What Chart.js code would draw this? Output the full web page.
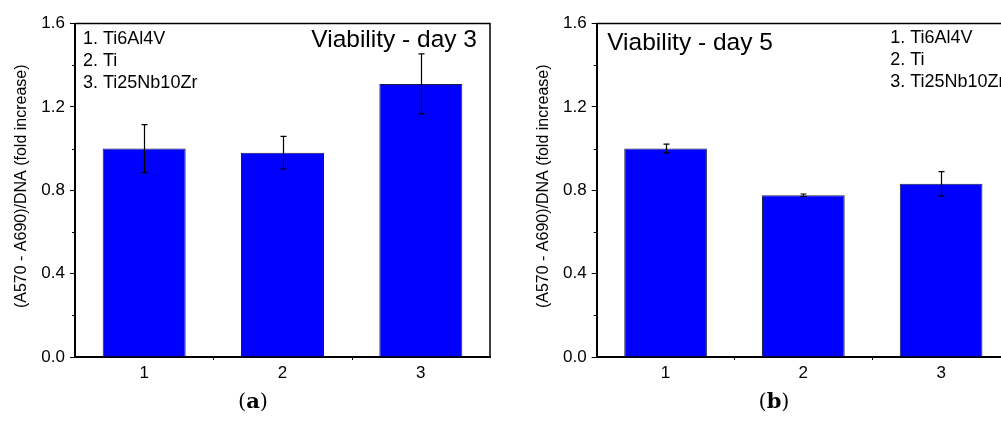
<!DOCTYPE html>
<html>
<head>
<meta charset="UTF-8">
<title>Viability</title>
<script src="https://cdn.jsdelivr.net/npm/chart.js@4"></script>
<style>
	html, body { margin: 0; padding: 0; background: #fff; overflow: hidden; }
	body { width: 1001px; height: 421px; position: relative; }
	canvas { position: absolute; top: 0; }
	#chartA { left: 0; }
	#chartB { left: 500px; }
	.caption { position: absolute; top: 388px; width: 60px; text-align: center;
		font-family: "DejaVu Serif", "Liberation Serif", serif; font-size: 21px; color: #000; }
	.caption b { font-weight: bold; }
</style>
</head>
<body>
<canvas id="chartA" width="500" height="421"></canvas>
<canvas id="chartB" width="520" height="421"></canvas>
<div class="caption" style="left:223px">(<b>a</b>)</div>
<div class="caption" style="left:744px">(<b>b</b>)</div>
<script>
	// samples on the x axis
	var categories = ["1", "2", "3"];
	var materials = ["1. Ti6Al4V", "2. Ti", "3. Ti25Nb10Zr"];
	var yTicks = [0, 0.4, 0.8, 1.2, 1.6];
	var yMinorTicks = [0.2, 0.6, 1.0, 1.4];

	// fold increase, mean and error
	var day3Mean = [1.00, 0.98, 1.31];
	var day3Err = [0.115, 0.078, 0.144];
	var day5Mean = [1.00, 0.776, 0.831];
	var day5Err = [0.021, 0.006, 0.058];

	var FONT = "'Liberation Sans', Arial, sans-serif";
	var yTitle = "(A570 - A690)/DNA (fold increase)";

	// frame, minor ticks, error bars and in-plot texts
	var decorations = {
		id: 'decorations',
		afterDatasetsDraw: function(chart) {
			var o = chart.options.plugins.decorations;
			var ctx = chart.ctx, a = chart.chartArea;
			var x = chart.scales.x, y = chart.scales.y;
			ctx.save();
			ctx.strokeStyle = '#000';

			// error bars
			ctx.lineWidth = 1.2;
			for (var i = 0; i < o.mean.length; i++) {
				var px = Math.round(x.getPixelForValue(i)) + 0.5;
				var top = y.getPixelForValue(o.mean[i] + o.err[i]);
				var bot = y.getPixelForValue(o.mean[i] - o.err[i]);
				ctx.beginPath();
				ctx.moveTo(px, top); ctx.lineTo(px, bot);
				ctx.moveTo(px - 3, top); ctx.lineTo(px + 3, top);
				ctx.moveTo(px - 3, bot); ctx.lineTo(px + 3, bot);
				ctx.stroke();
			}

			// top and right of the box
			ctx.lineWidth = 1.5;
			ctx.beginPath();
			ctx.moveTo(a.left, a.top); ctx.lineTo(a.right, a.top); ctx.lineTo(a.right, a.bottom);
			ctx.stroke();

			// minor ticks
			ctx.lineWidth = 1;
			ctx.beginPath();
			yMinorTicks.forEach(function(v) {
				var py = Math.round(y.getPixelForValue(v)) + 0.5;
				ctx.moveTo(a.left - 3, py); ctx.lineTo(a.left, py);
			});
			[0.5, 1.5].forEach(function(v) {
				var px = Math.round(x.getPixelForValue(v)) + 0.5;
				ctx.moveTo(px, a.bottom); ctx.lineTo(px, a.bottom + 3);
			});
			ctx.stroke();

			// title
			ctx.fillStyle = '#000';
			ctx.font = '24.5px ' + FONT;
			ctx.textBaseline = 'alphabetic';
			ctx.textAlign = o.titleAlign;
			var tx = o.titleAlign === 'right' ? a.right - o.titleX : a.left + o.titleX;
			ctx.fillText(o.title, tx, a.top + o.titleY);

			// list of materials
			ctx.font = '18px ' + FONT;
			ctx.textAlign = 'left';
			materials.forEach(function(m, k) {
				ctx.fillText(m, a.left + o.listX, a.top + o.listY + k * 22.3);
			});

			// y axis title
			ctx.font = '16px ' + FONT;
			ctx.textAlign = 'center';
			ctx.textBaseline = 'middle';
			ctx.translate(a.left - 53, (a.top + a.bottom) / 2 - 4);
			ctx.rotate(-Math.PI / 2);
			ctx.fillText(yTitle, 0, 0);
			ctx.restore();
		}
	};

	function makeChart(id, mean, err, axisWidth, opts) {
		var ctx = document.getElementById(id).getContext("2d");
		return new Chart(ctx, {
			type: 'bar',
			data: {
				labels: categories,
				datasets: [{
					data: mean,
					backgroundColor: '#0000ff',
					borderColor: '#1c1c4a',
					borderWidth: 1,
					categoryPercentage: 1.0,
					barPercentage: 0.6
				}]
			},
			options: {
				responsive: false,
				animation: false,
				devicePixelRatio: 1,
				layout: { padding: { left: 0, right: 10, top: 23.5, bottom: 0 } },
				plugins: {
					legend: { display: false },
					tooltip: { enabled: false },
					decorations: Object.assign({ mean: mean, err: err }, opts)
				},
				scales: {
					x: {
						grid: { display: false, drawTicks: false },
						border: { display: true, color: '#000', width: 2 },
						ticks: { color: '#000', font: { family: FONT, size: 17 }, padding: 6, maxRotation: 0 },
						afterFit: function(s) { s.height = 64; }
					},
					y: {
						min: 0,
						max: 1.6,
						afterBuildTicks: function(s) { s.ticks = yTicks.map(function(v) { return { value: v }; }); },
						grid: { drawOnChartArea: false, drawTicks: true, tickLength: 5, color: '#000', lineWidth: 1 },
						border: { display: true, color: '#000', width: 2 },
						ticks: {
							color: '#000', font: { family: FONT, size: 17 }, padding: 5,
							callback: function(v) { return Number(v).toFixed(1); }
						},
						afterFit: function(s) { s.width = axisWidth; }
					}
				}
			},
			plugins: [decorations]
		});
	}

	makeChart("chartA", day3Mean, day3Err, 75, {
		title: "Viability - day 3",
		titleAlign: 'right',
		titleX: 13,
		titleY: 23.5,
		listX: 8,
		listY: 20
	});

	makeChart("chartB", day5Mean, day5Err, 96.7, {
		title: "Viability - day 5",
		titleAlign: 'left',
		titleX: 10.5,
		titleY: 26,
		listX: 293.5,
		listY: 19
	});
</script>
</body>
</html>
